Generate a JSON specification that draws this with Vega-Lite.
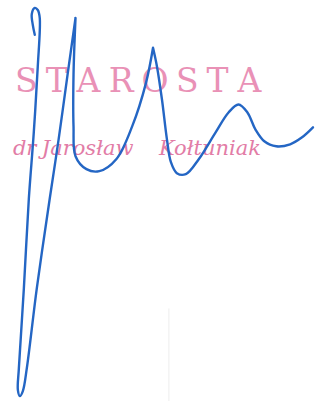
{
  "$schema": "https://vega.github.io/schema/vega-lite/v6.json",
  "width": 315,
  "height": 403,
  "padding": 0,
  "autosize": {"type": "fit", "contains": "padding"},
  "background": "white",
  "config": {"view": {"stroke": null}},
  "datasets": {
    "title": [
      {"ch": "S", "x": 26.5, "y": 92},
      {"ch": "T", "x": 57, "y": 92},
      {"ch": "A", "x": 89, "y": 92},
      {"ch": "R", "x": 122, "y": 92},
      {"ch": "O", "x": 156, "y": 92},
      {"ch": "S", "x": 188.5, "y": 92},
      {"ch": "T", "x": 219, "y": 92},
      {"ch": "A", "x": 251, "y": 92}
    ],
    "name": [
      {"t": "dr", "x": 13, "y": 156},
      {"t": "Jarosław", "x": 42, "y": 156},
      {"t": "Kołtuniak", "x": 160, "y": 156}
    ],
    "pencil": [
      {"x": 170, "y": 310},
      {"x": 170, "y": 403}
    ],
    "sig": [
      {"i": 1, "x": 35, "y": 35},
      {"i": 2, "x": 33, "y": 25},
      {"i": 3, "x": 32, "y": 14},
      {"i": 4, "x": 35, "y": 8},
      {"i": 5, "x": 38, "y": 10},
      {"i": 6, "x": 40, "y": 18},
      {"i": 7, "x": 38, "y": 67},
      {"i": 8, "x": 34, "y": 133},
      {"i": 9, "x": 29, "y": 200},
      {"i": 10, "x": 24, "y": 290},
      {"i": 11, "x": 19, "y": 370},
      {"i": 12, "x": 18, "y": 392},
      {"i": 13, "x": 20, "y": 398},
      {"i": 14, "x": 23, "y": 393},
      {"i": 15, "x": 27, "y": 370},
      {"i": 16, "x": 37, "y": 290},
      {"i": 17, "x": 50, "y": 200},
      {"i": 18, "x": 59, "y": 140},
      {"i": 19, "x": 68, "y": 75},
      {"i": 20, "x": 76, "y": 18},
      {"i": 21, "x": 76, "y": 18},
      {"i": 22, "x": 74, "y": 75},
      {"i": 23, "x": 74, "y": 127},
      {"i": 24, "x": 76, "y": 157},
      {"i": 25, "x": 87, "y": 170},
      {"i": 26, "x": 100, "y": 172},
      {"i": 27, "x": 117, "y": 160},
      {"i": 28, "x": 133, "y": 127},
      {"i": 29, "x": 147, "y": 83},
      {"i": 30, "x": 154, "y": 48},
      {"i": 31, "x": 154, "y": 48},
      {"i": 32, "x": 158, "y": 67},
      {"i": 33, "x": 163, "y": 100},
      {"i": 34, "x": 168, "y": 140},
      {"i": 35, "x": 172, "y": 163},
      {"i": 36, "x": 178, "y": 174},
      {"i": 37, "x": 187, "y": 175},
      {"i": 38, "x": 200, "y": 160},
      {"i": 39, "x": 217, "y": 133},
      {"i": 40, "x": 230, "y": 113},
      {"i": 41, "x": 240, "y": 105},
      {"i": 42, "x": 249, "y": 113},
      {"i": 43, "x": 257, "y": 130},
      {"i": 44, "x": 266, "y": 142},
      {"i": 45, "x": 278, "y": 147},
      {"i": 46, "x": 292, "y": 145},
      {"i": 47, "x": 304, "y": 138},
      {"i": 48, "x": 315, "y": 128}
    ]
  },
  "layer": [
    {
      "data": {"name": "pencil"},
      "mark": {"type": "line", "color": "#ededed", "strokeWidth": 1},
      "encoding": {
        "x": {"field": "x", "type": "quantitative", "scale": {"domain": [0, 315], "nice": false, "zero": false}, "axis": null},
        "y": {"field": "y", "type": "quantitative", "scale": {"domain": [0, 403], "nice": false, "zero": false, "reverse": true}, "axis": null}
      }
    },
    {
      "data": {"name": "title"},
      "mark": {"type": "text", "font": "DejaVu Serif", "fontSize": 33, "color": "#e991b6", "align": "center", "baseline": "alphabetic"},
      "encoding": {
        "x": {"field": "x", "type": "quantitative"},
        "y": {"field": "y", "type": "quantitative"},
        "text": {"field": "ch"}
      }
    },
    {
      "data": {"name": "name"},
      "mark": {"type": "text", "font": "DejaVu Serif", "fontStyle": "italic", "fontSize": 21, "color": "#e27ca6", "align": "left", "baseline": "alphabetic"},
      "encoding": {
        "x": {"field": "x", "type": "quantitative"},
        "y": {"field": "y", "type": "quantitative"},
        "text": {"field": "t"}
      }
    },
    {
      "data": {"name": "sig"},
      "mark": {"type": "line", "color": "#2466c4", "strokeWidth": 2.4, "interpolate": "catmull-rom", "strokeCap": "round", "strokeJoin": "round"},
      "encoding": {
        "x": {"field": "x", "type": "quantitative"},
        "y": {"field": "y", "type": "quantitative"},
        "order": {"field": "i", "type": "quantitative"}
      }
    }
  ]
}
